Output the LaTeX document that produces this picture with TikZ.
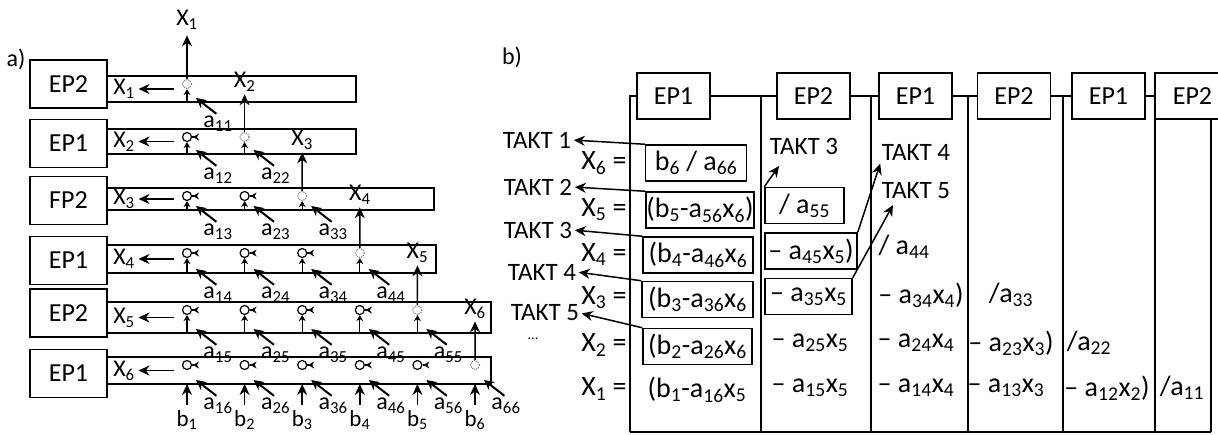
\documentclass[tikz,border=0pt]{standalone}
\usepackage{fontspec}
\setmainfont{Carlito}
\usetikzlibrary{arrows.meta}

\newcommand{\ix}[1]{\textsubscript{#1}}

\begin{document}
\begin{tikzpicture}[
    x=1pt, y=-1pt,
    line width=1.5pt,
    ep/.style={draw, fill=white, minimum width=77pt, minimum height=48pt, inner sep=0pt, font=\fontsize{26}{30}\selectfont},
    hd/.style={ep, minimum width=73pt, minimum height=46pt},
    lbl/.style={inner sep=0pt, font=\fontsize{24}{28}\selectfont},
    cell/.style={inner sep=0pt, font=\fontsize{28}{32}\selectfont},
    boxed/.style={cell, draw, minimum height=36pt},
    takt/.style={inner sep=0pt, font=\fontsize{25}{29}\selectfont},
    pe/.style={circle, draw, line width=1.2pt, minimum size=9pt, inner sep=0pt},
    diag/.style={pe, densely dotted, draw=black!45},
    arr/.style={-{Stealth[length=11pt, width=10pt]}},
    feed/.style={-{Stealth[length=10pt, width=10pt]}, line width=2pt},
    tick/.style={line width=1.2pt}
]
\useasboundingbox (0,0) rectangle (1218,434);

% a) triangular array of processing elements
\node[lbl] (la) at (16,59) {a)};
\foreach \i/\T/\B/\R/\E/\n in {1/76/102/356/84/EP2, 2/129/154/356/143.5/EP1,
    3/188/210/434/200.5/FP2, 4/245/273/436/260.5/EP1,
    5/302/333/491/313/EP2, 6/357/384/491/373.5/EP1}{
  \draw (107,\T) rectangle (\R,\B);
  \node[ep] (ep\i) at (68.5,\E) {\n};
  \node[lbl] (x\i) at (124,{(\T+\B)/2}) {X\ix{\i}};
  \coordinate (o\i) at (174,{(\T+\B)/2});
  \draw[arr, shorten >=3pt] (o\i) -- (x\i);
  \foreach \j in {1,...,\i}{
    \pgfmathsetmacro\cx{187+(\j-1)*57.6}
    \ifnum\j=\i
      \node[diag] (c\i\j) at (\cx,\T+8) {};
    \else
      \node[pe] (c\i\j) at (\cx,\T+8) {};
      \coordinate (r\i\j) at (\cx+12,\T+8);
      \draw[tick, -{Stealth[reversed, length=6pt, width=7pt]}] (c\i\j) -- (r\i\j);
    \fi
    \coordinate (u\i\j) at (\cx,\B);
    \ifnum\i=6
      \node[lbl, font=\fontsize{23}{27}\selectfont] (b\j) at (\cx,\B+36) {b\ix{\j}};
      \draw[arr, shorten <=4pt] (b\j) -- (u\i\j);
    \else
      \draw[tick, -{Stealth[length=6pt, width=7pt]}] (u\i\j) -- (c\i\j);
    \fi
    \node[lbl, anchor=north] (a\j\i) at (\cx+31,\B+13) {a\ix{\j\i}};
    \coordinate (p\i\j) at (\cx+9,\B-4);
    \draw[feed, shorten <=2pt] (a\j\i.north) -- (p\i\j);
  }
}

% results passed up to the next row
\node[lbl] (y1) at (187,20) {X\ix{1}};
\draw[arr, shorten >=5pt] (c11) -- (y1);
\foreach \i/\cx/\y in {2/244.6/82, 3/302.2/140, 4/359.8/195, 5/417.4/253, 6/475/309}{
  \node[lbl] (y\i) at (\cx,\y) {X\ix{\i}};
  \draw[arr, shorten >=2pt] (c\i\i) -- (y\i);
}

% b) schedule of the two processors
\node[lbl] (lb) at (512,57) {b)};
\draw (630,432) -- (630,96) -- (637,96);
\draw (761,96) -- (761,432);
\draw (871,96) -- (871,432);
\draw (968,96) -- (968,432);
\draw (1063,96) -- (1063,432);
\draw (1155,119) -- (1155,432);
\draw (1211,119) -- (1211,432);
\draw (630,432) -- (1211,432);
\node[hd] (h1) at (673.5,96) {EP1};
\node[hd] (h2) at (813.5,96) {EP2};
\node[hd] (h3) at (915.5,96) {EP1};
\node[hd] (h4) at (1014,96) {EP2};
\node[hd] (h5) at (1108.5,96) {EP1};
\node[hd, minimum width=75pt] (h6) at (1192.5,96) {EP2};
\draw (h1) -- (h2);
\draw (h2) -- (h3);
\draw (h3) -- (h4);
\draw (h4) -- (h5);
\draw (h5) -- (h6);

\foreach \k/\y in {6/163, 5/210, 4/255, 3/298, 2/345, 1/389}
  \node[cell] (q\k) at (604,\y) {X\ix{\k} =};

\node[boxed, minimum width=101pt] (e6) at (696,163) {b\ix{6} / a\ix{66}};
\node[boxed, minimum width=108pt] (e5) at (700,210) {(b\ix{5}-a\ix{56}x\ix{6})};
\node[boxed, minimum width=110pt] (e4) at (698,255) {(b\ix{4}-a\ix{46}x\ix{6}};
\node[boxed, minimum width=111pt] (e3) at (697.5,299.5) {(b\ix{3}-a\ix{36}x\ix{6}};
\node[boxed, minimum width=109pt] (e2) at (697.5,346.5) {(b\ix{2}-a\ix{26}x\ix{6}};
\node[cell] (e1) at (697,390) {(b\ix{1}-a\ix{16}x\ix{5}};

\node[boxed, minimum width=79pt] (f5) at (804.5,205.5) {/ a\ix{55}};
\node[boxed, minimum width=92pt] (f4) at (811,251) {-- a\ix{45}x\ix{5})};
\node[boxed, minimum width=87pt] (f3) at (808.5,296.5) {-- a\ix{35}x\ix{5}};
\node[cell] (f2) at (810,343) {-- a\ix{25}x\ix{5}};
\node[cell] (f1) at (810,388) {-- a\ix{15}x\ix{5}};

\node[cell] (g4) at (904,247) {/ a\ix{44}};
\node[cell] (g3) at (921,295) {-- a\ix{34}x\ix{4})};
\node[cell] (g2) at (916,343) {-- a\ix{24}x\ix{4}};
\node[cell] (g1) at (916,388) {-- a\ix{14}x\ix{4}};

\node[cell] (m3) at (1011,295) {/a\ix{33}};
\node[cell] (m2) at (1011,343) {-- a\ix{23}x\ix{3})};
\node[cell] (m1) at (1006,388) {-- a\ix{13}x\ix{3}};

\node[cell] (n2) at (1089,343) {/a\ix{22}};
\node[cell] (n1) at (1107,388) {-- a\ix{12}x\ix{2})};

\node[cell] (s1) at (1182,388) {/a\ix{11}};

% clock steps
\node[takt] (tk1) at (537,140) {TAKT 1};
\node[takt] (tk2) at (538,187) {TAKT 2};
\node[takt] (tk3) at (538,230) {TAKT 3};
\node[takt] (tk4) at (542,272) {TAKT 4};
\node[takt] (tk5) at (545,313) {TAKT 5};
\node[takt, font=\fontsize{14}{16}\selectfont] (tk6) at (533,339) {...};
\draw[arr, shorten >=2pt] (e6.north west) -- (tk1.east);
\draw[arr, shorten >=2pt] (e5.north west) -- (tk2.east);
\draw[arr, shorten >=2pt] (e4.north west) -- (tk3.east);
\draw[arr, shorten >=2pt] (e3.north west) -- (tk4.east);
\draw[arr, shorten >=2pt] (e2.north west) -- (tk5.east);

\node[takt] (tt3) at (804,146) {TAKT 3};
\node[takt] (tt4) at (916,152) {TAKT 4};
\node[takt] (tt5) at (916,191) {TAKT 5};
\coordinate (k3) at (779,166);
\coordinate (k5) at (893,205);
\draw[arr] (f5.north west) -- (k3);
\draw[arr, shorten >=3pt] (f4.north east) -- (tt4.south west);
\draw[arr] (f3.north east) -- (k5);
\end{tikzpicture}
\end{document}
